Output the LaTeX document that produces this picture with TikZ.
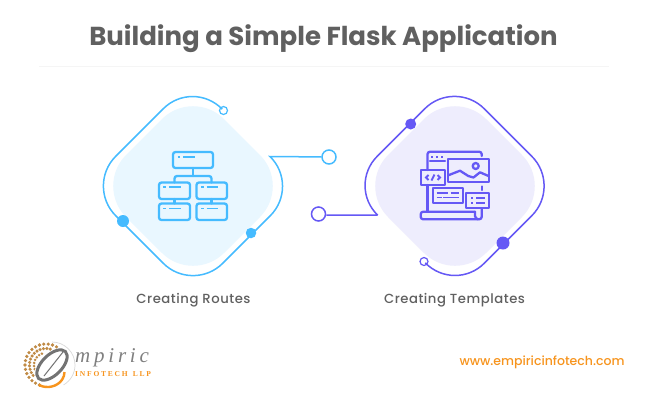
\documentclass[tikz,border=0pt]{standalone}
\usepackage{fontspec}
\setmainfont{Poppins}
\newfontfamily\labelFont[LetterSpace=4]{Poppins Medium}
\newfontfamily\webFont{Poppins Medium}
\newfontfamily\logoFont[LetterSpace=18]{Liberation Serif}
\newfontfamily\logoSubFont[LetterSpace=24]{Liberation Serif}
\usetikzlibrary{positioning}
\definecolor{routeColor}{HTML}{45BBFF}
\definecolor{routeFill}{HTML}{E9F7FF}
\definecolor{templateColor}{HTML}{6558F5}
\definecolor{templateFill}{HTML}{EEEDFD}
\definecolor{textColor}{HTML}{606060}
\definecolor{orangeColor}{HTML}{F7941D}
\definecolor{logoBrown}{HTML}{C08A45}
\tikzset{
  ring/.style={circle,draw,fill=white,line width=1.5pt,inner sep=0pt},
  dot/.style={circle,fill,inner sep=0pt},
  caption/.style={text=textColor,font=\labelFont\fontsize{13.2}{15}\selectfont},
  iconline/.style={line width=2.3pt,line join=round,line cap=round},
  iconthin/.style={line width=1.9pt,line cap=butt},
}
\begin{document}
\begin{tikzpicture}[x=1pt,y=-1pt]
  \useasboundingbox (0,0) rectangle (647,408);
  \fill[white] (0,0) rectangle (647,408);
  % title
  \node[text=textColor,font=\bfseries\fontsize{26}{30}\selectfont] (title) at (323.5,38.5) {Building a Simple Flask Application};
  \draw[black!4,line width=.8pt] (39,66) -- (609,66);

  % left diamond
  \fill[routeFill,rounded corners=44pt] (193,88) -- (291,186) -- (193,284) -- (95,186) -- cycle;
  \node[ring,draw=routeColor,minimum size=8pt,line width=1.2pt] (routesSmall) at (223.5,110.5) {};
  \node[ring,draw=routeColor,minimum size=14pt] (routesEnd) at (329,157) {};
  \coordinate (routesTip) at (270,156.5);
  \draw[routeColor,line width=1.5pt,rounded corners=42pt] (routesSmall) -- (193,79) -- (86,186) -- (193,293) -- (300,186)
    [sharp corners] -- (routesTip) -- (routesEnd);
  \node[dot,fill=routeColor,minimum size=12pt] (routesDotA) at (123,221) {};
  \node[dot,fill=routeColor,minimum size=10.5pt] (routesDotB) at (251,233) {};

  % org chart icon
  \begin{scope}[routeColor,iconline]
    \draw[rounded corners=2.5pt] (173,152) rectangle (213,168);
    \draw[rounded corners=2.5pt] (159,182.5) rectangle (190,199);
    \draw[rounded corners=2.5pt] (196.5,182.5) rectangle (227,199);
    \draw[rounded corners=2.5pt] (159,203.5) rectangle (190,220);
    \draw[rounded corners=2.5pt] (196.5,203.5) rectangle (227,220);
    \draw (193,168) -- (193,176);
    \draw[rounded corners=2.5pt] (174.5,182.5) -- (174.5,176) -- (211.5,176) -- (211.5,182.5);
    \draw (174.5,199) -- (174.5,203.5);
    \draw (211.5,199) -- (211.5,203.5);
  \end{scope}
  \begin{scope}[routeColor,iconthin]
    \draw (177.5,156.7) -- (180,156.7) (183,156.7) -- (195,156.7);
    \draw (163,187.3) -- (165.5,187.3) (169,187.3) -- (181,187.3);
    \draw (201,187.3) -- (203.5,187.3) (206.5,187.3) -- (218,187.3);
    \draw (163,208.5) -- (165.5,208.5) (169,208.5) -- (181,208.5);
    \draw (201,208.5) -- (203.5,208.5) (206.5,208.5) -- (218,208.5);
  \end{scope}

  % right diamond
  \fill[templateFill,rounded corners=44pt] (455,88) -- (553,186) -- (455,284) -- (357,186) -- cycle;
  \node[ring,draw=templateColor,minimum size=8pt,line width=1.2pt] (templatesSmall) at (424,261.5) {};
  \node[ring,draw=templateColor,minimum size=14pt] (templatesEnd) at (318.5,214) {};
  \coordinate (templatesTip) at (377.5,215);
  \draw[templateColor,line width=1.5pt,rounded corners=42pt] (templatesSmall) -- (454.5,293) -- (561.5,186) -- (454.5,79) -- (347.5,186)
    [sharp corners] -- (templatesTip) -- (templatesTip -| templatesEnd.east);
  \node[dot,fill=templateColor,minimum size=11pt] (templatesDotA) at (410.7,124) {};
  \node[dot,fill=templateColor,minimum size=13pt] (templatesDotB) at (503,243) {};

  % page and image icon
  \begin{scope}[templateColor,iconline]
    \draw[rounded corners=2.5pt] (427.5,170) -- (427.5,151.7) -- (481.7,151.7) -- (481.7,156);
    \draw (427.5,185) -- (427.5,211.7);
    \draw (481.7,186.5) -- (481.7,190);
    \draw[rounded corners=2.5pt] (475,211.7) -- (420.7,211.7) -- (420.7,219.3) -- (481.7,219.3) -- (481.7,208.3);
    \draw (475,211.7) -- (475,216) to[bend right=30] (478,219.3);
    \draw (448.3,159) rectangle (489.3,181.7);
    \draw (420.7,170) rectangle (445,185);
    \draw (432.7,187.7) rectangle (463.3,203.3);
    \draw (466,193.3) rectangle (489.3,208.3);
    \draw (449,175) -- (460,170.7) -- (468.3,176) -- (473.5,177.5) -- (480,172.3) -- (488.5,176);
    \draw (475.7,166) circle (3);
    \draw (430,160.7) -- (445,160.7);
  \end{scope}
  \begin{scope}[templateColor,iconthin]
    \draw (431,156.7) -- (433,156.7) (436,156.7) -- (438,156.7) (441,156.7) -- (443,156.7);
    \draw (428.5,175) -- (426,177.5) -- (428.5,180);
    \draw (437.5,175) -- (440,177.5) -- (437.5,180);
    \draw (434.5,174.5) -- (431.5,180.5);
    \draw (436.7,192.7) -- (448.3,192.7) (450.7,192.7) -- (459.3,192.7);
    \draw (436.7,197.5) -- (441.7,197.5) (443.3,197.5) -- (459.3,197.5);
    \draw (471,198.3) -- (473,198.3) (476,198.3) -- (485,198.3);
    \draw (471,203.3) -- (473,203.3) (476,203.3) -- (485,203.3);
  \end{scope}

  \node[caption] (routesLabel) at (193.5,300) {Creating Routes};
  \node[caption] (templatesLabel) at (454.5,300) {Creating Templates};

  % logo
  \foreach \t in {60,72,...,255}
    \fill[logoBrown] (46,365) ++(-\t:21) circle (1.8);
  \foreach \t in {75,87,...,230}
    \fill[logoBrown] (46,365) ++(-\t:16.5) circle (1.7);
  \foreach \t in {110,125,...,200}
    \fill[logoBrown] (46,365) ++(-\t:12) circle (1.4);
  \draw[black!15,line width=.7pt] (52,342) arc (-90:60:23);
  \fill[white,rotate around={45:(52,366)}] (52,366) ellipse (21 and 13);
  \draw[orangeColor,line width=2.4pt] (39,385) arc (120:0:17 and 15);
  \draw[black!55,line width=3pt,rotate around={45:(52,365)}] (52,365) ellipse (19 and 10);
  \draw[black!55,line width=1pt] (44,376) -- (63,352);
  \node[text=black!50,font=\logoFont\itshape\fontsize{21}{24}\selectfont,anchor=west,inner sep=0pt] (logoName) at (75,358) {mpiric};
  \node[text=orangeColor,font=\logoSubFont\bfseries\fontsize{7.5}{10}\selectfont,anchor=west,inner sep=0pt] (logoSub) at (75,374) {INFOTECH\hspace{5pt}LLP};

  \node[text=orangeColor,font=\webFont\fontsize{12.5}{15}\selectfont] (webAddress) at (542,362) {www.empiricinfotech.com};
\end{tikzpicture}
\end{document}
